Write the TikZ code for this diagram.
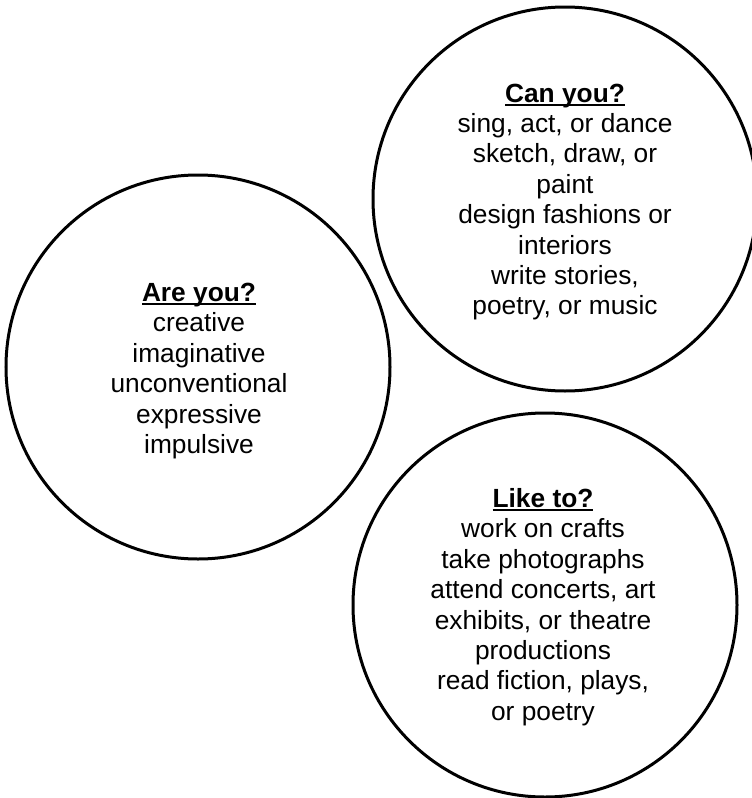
\documentclass[tikz,border=0pt]{standalone}
\usepackage{fontspec}
\setmainfont{Liberation Sans}
\newcommand{\ulhead}[1]{{\bfseries\setbox0\hbox{#1}\rlap{\rule[-3.6pt]{\wd0}{2pt}}\box0}}
\begin{document}
\begin{tikzpicture}[x=1pt,y=-1pt,
  bubble/.style={circle,draw=black,line width=3pt,minimum size=384pt,inner sep=0pt},
  txt/.style={align=center,inner sep=0pt,font=\fontsize{26.3}{30.4}\selectfont}]
\useasboundingbox (0,0) rectangle (752,798);
\node[bubble] (c1) at (198,367) {};
\node[bubble] (c2) at (565,199) {};
\node[bubble] (c3) at (545,605) {};
\node[txt] (t1) at (199,371) {\ulhead{Are you?}\\creative\\imaginative\\unconventional\\expressive\\impulsive};
\node[txt] (t2) at (565,202) {\ulhead{Can you?}\\sing, act, or dance\\sketch, draw, or\\paint\\design fashions or\\interiors\\write stories,\\poetry, or music};
\node[txt] (t3) at (543,607) {\ulhead{Like to?}\\work on crafts\\take photographs\\attend concerts, art\\exhibits, or theatre\\productions\\read fiction, plays,\\or poetry};
\end{tikzpicture}
\end{document}
